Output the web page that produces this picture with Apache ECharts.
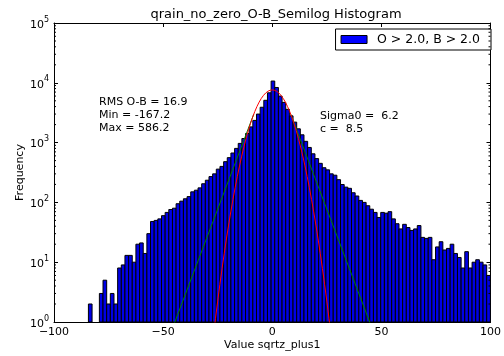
<!DOCTYPE html>
<html>
<head>
<meta charset="utf-8">
<script src="https://cdn.jsdelivr.net/npm/echarts@6/dist/echarts.min.js"></script>
<style>html,body{margin:0;padding:0;background:#fff}#c{width:504px;height:356px}</style>
</head>
<body>
<div id="c"></div>
<script>
// ---- data ----
const binStart = -99.30;
const binWidth = 1.6742;
const counts = [
  0,0,0,0,0,0,0,0,0,2,
  0,0,3,5,2,3,2,8,9,13,
  13,10,20,21,14,30,48,50,53,60,
  68,76,80,95,105,115,125,150,160,175,
  205,235,270,300,360,400,480,560,670,800,
  970,1170,1420,1830,2350,3000,3900,5100,6800,10700,
  8350,6000,4700,3600,2800,2200,1700,1350,1050,830,
  650,540,450,380,350,300,285,240,199,180,
  172,145,128,108,100,88,77,68,56,68,
  66,70,53,44,36,43,38,34,36,41,
  26,25,26,11,18,22,16,17,20,14,
  12,8,15,8,10,11,10,9,6
];
const redX = [-27,-26,-25,-24,-23,-22,-21,-20,-19,-18,-17,-16,-15,-14,-13,-12,-11,-10,-9,-8,-7,-6,-5,-4,-3,-2,-1,0,
  1,2,3,4,5,6,7,8,9,10,11,12,13,14,15,16,17,18,19,20,21,22,23,24,25,26,27];
const redY = [0.58,1.15,2.24,4.24,7.80,14.0,24.5,41.8,69.4,112,177,272,407,594,844,1168,1575,2070,2650,3306,4018,4758,5490,6172,6760,7215,7502,7600,
  7502,7215,6760,6172,5490,4758,4018,3306,2650,2070,1575,1168,844,594,407,272,177,112,69.4,41.8,24.5,14.0,7.80,4.24,2.24,1.15,0.58];
const greenX = [-46,-8.5,null,8.5,46];
const greenY = [0.74,2970,null,2970,0.74];
const xTicks = [-100,-50,0,50,100];
const legendName = 'O > 2.0, B > 2.0';
const titleText = 'qrain_no_zero_O-B_Semilog Histogram';
const statsLeft = ['RMS O-B = 16.9','Min = -167.2','Max = 586.2'];
const statsRight = ['Sigma0 =  6.2','c =  8.5'];

// ---- build ----
const FONT = 'DejaVu Sans';
const histData = counts.map((v,i)=>[binStart+i*binWidth, binStart+(i+1)*binWidth, v]);
const redData = redX.map((x,i)=>[x, redY[i]]);
const greenData = greenX.map((x,i)=> x===null ? ['-','-'] : [x, greenY[i]]);
const minorVals = [];
for (let k=0;k<5;k++) for (let m=2;m<=9;m++) minorVals.push([m*Math.pow(10,k)]);

const chart = echarts.init(document.getElementById('c'), null, {renderer:'canvas'});
const axisLineStyle = {color:'#000', width:1};
chart.setOption({
  animation:false,
  backgroundColor:'#fff',
  textStyle:{fontFamily:FONT},
  grid:{left:54, right:6, top:23, bottom:30, containLabel:false},
  legend:{
    right:13, top:29, orient:'horizontal',
    itemWidth:26, itemHeight:8,
    padding:[4,11,4,5],
    borderColor:'#000', borderWidth:1, backgroundColor:'#fff',
    textStyle:{fontSize:12.5, color:'#000', fontFamily:FONT, padding:[0,0,0,5]},
    data:[{name:legendName, icon:'rect', itemStyle:{color:'#0000ff', borderColor:'#000', borderWidth:1}}]
  },
  xAxis:[{
    type:'value', min:-100, max:100, interval:50, position:'bottom',
    axisLine:{onZero:false, lineStyle:axisLineStyle},
    axisTick:{inside:true, length:4, lineStyle:{color:'#000'}},
    axisLabel:{color:'#000', fontSize:11, margin:5, fontFamily:FONT,
      formatter:v=> v<0 ? '\u2212'+Math.abs(v) : String(v)},
    splitLine:{show:false},
    name:'Value sqrtz_plus1', nameLocation:'middle', nameGap:18, nameMoveOverlap:false,
    nameTextStyle:{fontSize:11, color:'#000', fontFamily:FONT}
  },{
    type:'value', min:-100, max:100, interval:50, position:'top',
    axisLine:{onZero:false, lineStyle:axisLineStyle},
    axisTick:{inside:true, length:4, lineStyle:{color:'#000'}},
    axisLabel:{show:false}, splitLine:{show:false}
  }],
  yAxis:[{
    type:'log', logBase:10, min:1, max:100000, position:'left',
    axisLine:{onZero:false, lineStyle:axisLineStyle},
    axisTick:{inside:true, length:4, lineStyle:{color:'#000'}},
    axisLabel:{margin:5, formatter:v=>'{b|10}{s|'+Math.round(Math.log10(v))+'}',
      rich:{b:{fontSize:11, color:'#000', fontFamily:FONT, padding:[4,0,0,0]},
            s:{fontSize:8, color:'#000', fontFamily:FONT, verticalAlign:'top'}}},
    splitLine:{show:false},
    name:'Frequency', nameLocation:'middle', nameGap:28, nameRotate:90, nameMoveOverlap:false,
    nameTextStyle:{fontSize:11, color:'#000', fontFamily:FONT}
  },{
    type:'log', logBase:10, min:1, max:100000, position:'right',
    axisLine:{onZero:false, lineStyle:axisLineStyle},
    axisTick:{inside:true, length:4, lineStyle:{color:'#000'}},
    axisLabel:{show:false}, splitLine:{show:false}
  }],
  series:[{
    name:legendName, type:'custom', xAxisIndex:0, yAxisIndex:0,
    itemStyle:{color:'#0000ff'},
    data:histData,
    renderItem:function(params, api){
      const v = api.value(2);
      if (!(v>0)) return;
      const p0 = api.coord([api.value(0), v]);
      const p1 = api.coord([api.value(1), 1]);
      const cs = params.coordSys;
      const r = echarts.graphic.clipRectByRect(
        {x:p0[0], y:p0[1], width:p1[0]-p0[0], height:p1[1]-p0[1]},
        {x:cs.x, y:cs.y, width:cs.width, height:cs.height});
      if (!r) return;
      return {type:'rect', shape:r, style:{fill:'#0000e6', stroke:'#000', lineWidth:1}};
    }
  },{
    type:'line', name:'green', data:greenData, showSymbol:false, connectNulls:false,
    lineStyle:{color:'#008000', width:1}, clip:true, silent:true, z:3
  },{
    type:'line', name:'red', data:redData, showSymbol:false, smooth:false,
    lineStyle:{color:'#ff0000', width:1}, clip:true, silent:true, z:4
  },{
    type:'custom', name:'minor', xAxisIndex:0, yAxisIndex:0, data:minorVals, silent:true, z:5,
    renderItem:function(params, api){
      const v = api.value(0);
      const pl = api.coord([-100, v]);
      const pr = api.coord([100, v]);
      return {type:'group', children:[
        {type:'line', shape:{x1:pl[0], y1:pl[1], x2:pl[0]+2, y2:pl[1]}, style:{stroke:'#000', lineWidth:1}},
        {type:'line', shape:{x1:pr[0]-2, y1:pr[1], x2:pr[0], y2:pr[1]}, style:{stroke:'#000', lineWidth:1}}
      ]};
    },
    encode:{y:0}
  }],
  graphic:[
    {type:'text', x:276, y:15, style:{text:titleText, font:'13px "DejaVu Sans"', fill:'#000', textAlign:'center', textVerticalAlign:'middle'}},
    {type:'text', x:99, y:96, style:{text:statsLeft.join('\n'), font:'11px "DejaVu Sans"', fill:'#000', lineHeight:13}},
    {type:'text', x:320, y:110, style:{text:statsRight.join('\n'), font:'11px "DejaVu Sans"', fill:'#000', lineHeight:13}}
  ]
});
</script>
</body>
</html>
